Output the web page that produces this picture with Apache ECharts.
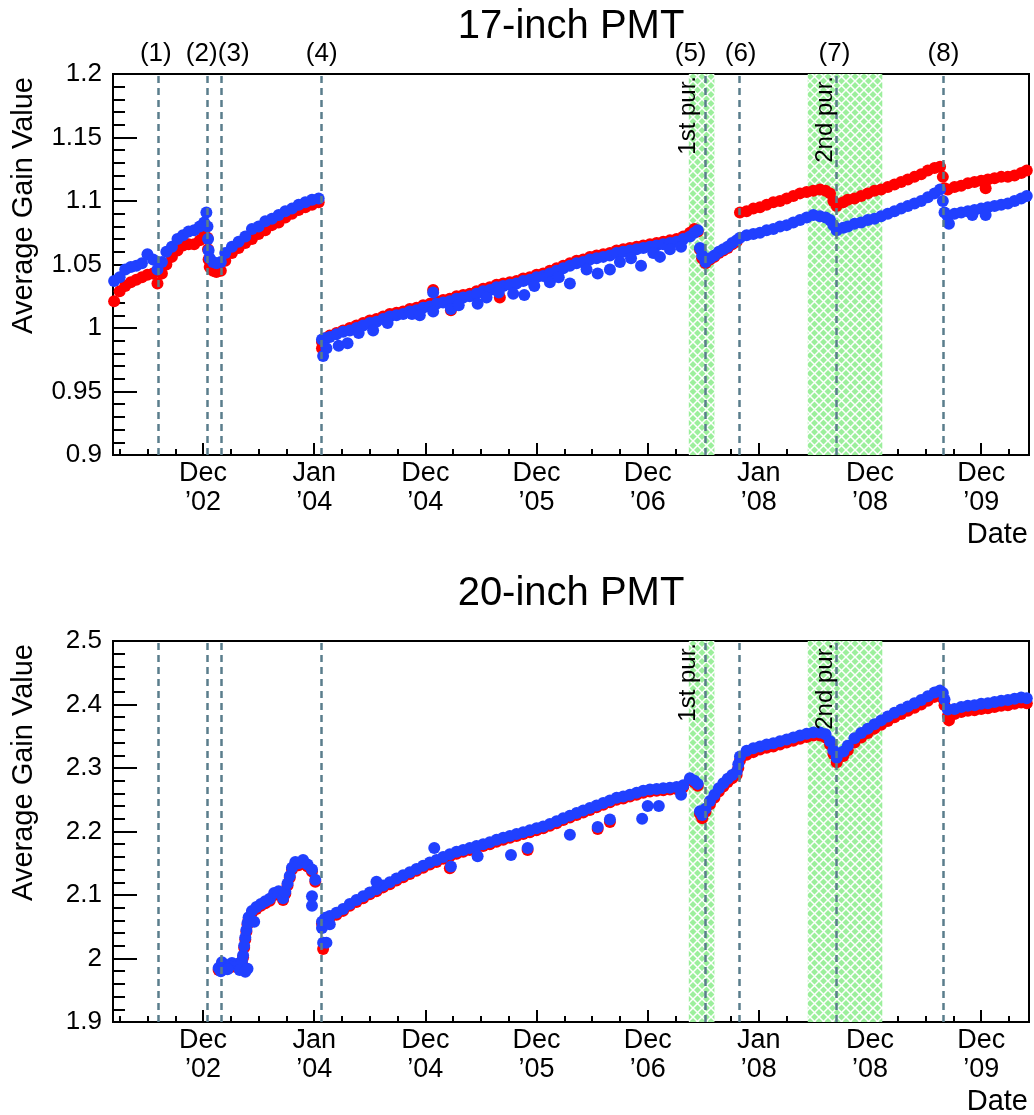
<!DOCTYPE html>
<html><head><meta charset="utf-8">
<script src="https://cdn.jsdelivr.net/npm/echarts@6/dist/echarts.min.js"></script>
<style>html,body{margin:0;padding:0;background:#fff;}#c{width:1034px;height:1115px;}</style>
</head><body><div id="c"></div>
<script>
// ---------- axis ticks / labels (x in "tick units": major tick k at x = k) ----------
const xTicks = [0, 1, 2, 3, 4, 5, 6, 7];
const tickMonth = ['Dec', 'Jan', 'Dec', 'Dec', 'Dec', 'Jan', 'Dec', 'Dec'];
const tickYear = ['\u201902', '\u201904', '\u201904', '\u201905', '\u201906', '\u201908', '\u201908', '\u201909'];

// ---------- events & purification periods ----------
const eventX = [-0.40, 0.04, 0.164, 1.063, 4.52, 4.82, 5.70, 6.66];
const eventLabels = ['(1)', '(2)', '(3)', '(4)', '(5)', '(6)', '(7)', '(8)'];
const eventLabelX = [-0.425, -0.012, 0.276, 1.067, 4.386, 4.836, 5.68, 6.66];
const purBands = [[4.37, 4.60], [5.44, 6.11]];
const purLabels = ['1st pur.', '2nd pur.'];
const purLabelX = [4.368, 5.60];

// ---------- x positions ----------
const seg1X = [-0.80,-0.75,-0.70,-0.65,-0.60,-0.55,-0.50,-0.45,-0.41,-0.37,
  -0.33,-0.28,-0.23,-0.18,-0.13,-0.08,-0.03,0.01,0.03,0.04,
  0.045,0.05,0.06,0.09,0.12,0.16,0.20,0.26,0.32,0.38,
  0.44,0.50,0.56,0.62,0.68,0.74,0.80,0.86,0.92,0.98,1.04];
const segAX = [0.14,0.17,0.20,0.23,0.26,0.29,0.32,0.35,0.36,0.37,
  0.38,0.39,0.40,0.41,0.44,0.48,0.52,0.56,0.60,0.64,
  0.68,0.72,0.74,0.76,0.78,0.80,0.83,0.86,0.90,0.94,0.98,1.01];
const midX = [1.07,1.10,1.14,1.20,1.26,1.32,1.38,1.44,1.50,1.56,
  1.62,1.68,1.74,1.80,1.86,1.92,1.98,2.04,2.10,2.16,
  2.22,2.28,2.34,2.40,2.46,2.52,2.58,2.64,2.70,2.76,
  2.82,2.88,2.94,3.00,3.06,3.12,3.18,3.24,3.30,3.36,
  3.42,3.48,3.54,3.60,3.66,3.72,3.78,3.84,3.90,3.96,
  4.02,4.08,4.14,4.20,4.26,4.32,4.38,4.42,4.45];
const lateX = [4.47,4.49,4.52,4.56,4.60,4.64,4.68,4.72,4.76,4.80,
  4.83,4.89,4.95,5.01,5.07,5.13,5.19,5.25,5.31,5.37,
  5.43,5.49,5.55,5.60,5.64,5.67,5.70,5.76,5.80,5.86,
  5.92,5.98,6.04,6.10,6.16,6.22,6.28,6.34,6.40,6.46,
  6.52,6.58,6.63,
  6.655,6.67,6.70,6.76,6.82,6.88,6.94,7.00,7.06,7.12,7.18,7.24,7.30,7.36,7.41];

// ---------- 17-inch PMT ----------
const top17Blue1 = [1.037,1.040,1.046,1.048,1.049,1.051,1.058,1.054,1.046,1.052,
  1.060,1.064,1.070,1.073,1.076,1.077,1.080,1.083,1.091,1.080,
  1.070,1.061,1.055,1.052,1.051,1.052,1.059,1.064,1.068,1.072,
  1.078,1.080,1.084,1.086,1.089,1.092,1.094,1.097,1.099,1.101,1.102];
const top17Red1 = [1.021,1.029,1.033,1.036,1.038,1.040,1.042,1.043,1.035,1.043,
  1.050,1.056,1.061,1.065,1.066,1.066,1.069,1.073,1.080,1.071,
  1.062,1.054,1.048,1.045,1.044,1.045,1.053,1.059,1.063,1.067,
  1.070,1.074,1.077,1.081,1.083,1.087,1.090,1.093,1.095,1.097,1.099];
const top17BlueMid = [0.991,0.992,0.993,0.995,0.997,0.998,1.000,1.002,1.004,1.005,
  1.007,1.009,1.010,1.011,1.013,1.014,1.016,1.017,1.019,1.020,
  1.021,1.023,1.024,1.025,1.027,1.029,1.030,1.032,1.033,1.034,
  1.035,1.037,1.038,1.040,1.041,1.043,1.045,1.047,1.049,1.051,
  1.052,1.054,1.055,1.056,1.057,1.059,1.060,1.061,1.062,1.063,
  1.064,1.065,1.066,1.067,1.068,1.070,1.072,1.075,1.077];
const top17RedMid = [0.989,0.992,0.994,0.996,0.998,1.000,1.002,1.004,1.006,1.007,
  1.009,1.011,1.012,1.013,1.015,1.016,1.018,1.019,1.021,1.022,
  1.023,1.025,1.026,1.027,1.029,1.031,1.032,1.034,1.035,1.036,
  1.037,1.039,1.040,1.042,1.043,1.045,1.047,1.049,1.051,1.053,
  1.054,1.056,1.057,1.058,1.059,1.061,1.062,1.063,1.064,1.065,
  1.066,1.067,1.068,1.069,1.070,1.072,1.075,1.078,1.076];
const top17BlueLate = [1.063,1.057,1.052,1.055,1.057,1.060,1.062,1.064,1.067,1.069,
  1.071,1.073,1.074,1.075,1.077,1.078,1.080,1.081,1.083,1.085,
  1.087,1.089,1.088,1.087,1.085,1.081,1.077,1.079,1.080,1.082,
  1.083,1.085,1.086,1.088,1.090,1.092,1.094,1.096,1.098,1.100,
  1.103,1.106,1.109,
  1.100,1.091,1.088,1.090,1.091,1.092,1.093,1.094,1.095,1.096,1.097,1.098,1.100,1.102,1.104];
const top17RedLate = [1.062,1.055,1.051,1.054,1.056,1.059,1.061,1.063,1.066,1.068,
  1.091,1.092,1.094,1.095,1.097,1.099,1.100,1.102,1.104,1.106,
  1.107,1.108,1.109,1.108,1.106,1.100,1.096,1.099,1.101,1.102,
  1.104,1.106,1.108,1.109,1.111,1.113,1.115,1.117,1.119,1.121,
  1.124,1.126,1.127,
  1.119,1.110,1.109,1.111,1.112,1.114,1.115,1.116,1.117,1.118,1.119,1.119,1.120,1.122,1.124];
const top17BlueOut = [[1.08,0.978],[1.11,0.984],[1.22,0.986],[1.30,0.988],[1.40,0.996],[1.53,0.998],
  [1.66,1.004],[1.88,1.011],[1.95,1.010],[2.07,1.013],[2.07,1.028],[2.23,1.015],[2.30,1.018],
  [2.47,1.019],[2.55,1.024],[2.66,1.028],[2.79,1.027],[2.89,1.026],[2.98,1.033],[3.12,1.036],
  [3.20,1.040],[3.30,1.035],[3.45,1.046],[3.55,1.043],[3.66,1.046],[3.75,1.052],[3.85,1.055],
  [3.94,1.049],[4.05,1.059],[4.11,1.056],[4.20,1.062],[4.30,1.064],
  [6.71,1.082],[6.92,1.089],[7.04,1.089]];
const top17RedOut = [[1.07,0.984],[2.07,1.030],[2.23,1.014],[2.67,1.024],[7.04,1.110]];

// ---------- 20-inch PMT ----------
const bot20BlueA = [1.985,1.994,1.990,1.988,1.993,1.990,1.992,1.996,2.005,2.020,
  2.033,2.045,2.056,2.065,2.075,2.081,2.086,2.090,2.094,2.103,
  2.106,2.095,2.105,2.118,2.130,2.143,2.152,2.150,2.155,2.148,2.140,2.124];
const bot20RedA = [1.982,1.991,1.987,1.985,1.990,1.987,1.989,1.993,2.002,2.017,
  2.030,2.042,2.053,2.062,2.072,2.078,2.083,2.087,2.091,2.100,
  2.103,2.092,2.102,2.115,2.127,2.140,2.149,2.147,2.152,2.145,2.137,2.121];
const bot20BlueMid = [2.058,2.064,2.067,2.072,2.078,2.086,2.092,2.098,2.104,2.109,
  2.115,2.120,2.126,2.131,2.136,2.141,2.146,2.151,2.155,2.160,
  2.164,2.168,2.171,2.174,2.177,2.180,2.183,2.187,2.190,2.193,
  2.196,2.199,2.202,2.205,2.208,2.212,2.216,2.221,2.225,2.229,
  2.233,2.237,2.241,2.245,2.249,2.253,2.255,2.258,2.261,2.264,
  2.266,2.267,2.268,2.269,2.270,2.273,2.284,2.280,2.275];
const bot20RedMid = [2.055,2.061,2.064,2.069,2.075,2.083,2.089,2.095,2.101,2.106,
  2.112,2.117,2.123,2.128,2.133,2.138,2.143,2.148,2.152,2.157,
  2.161,2.165,2.168,2.171,2.174,2.177,2.180,2.184,2.187,2.190,
  2.193,2.196,2.199,2.202,2.205,2.209,2.213,2.218,2.222,2.226,
  2.230,2.234,2.238,2.242,2.246,2.250,2.252,2.255,2.258,2.261,
  2.263,2.264,2.265,2.266,2.267,2.270,2.281,2.277,2.272];
const bot20BlueLate = [2.232,2.226,2.236,2.248,2.258,2.268,2.276,2.283,2.289,2.294,
  2.318,2.327,2.331,2.334,2.337,2.339,2.342,2.345,2.348,2.351,
  2.354,2.356,2.356,2.353,2.342,2.328,2.316,2.326,2.335,2.347,
  2.355,2.362,2.369,2.375,2.381,2.387,2.392,2.397,2.402,2.407,
  2.413,2.419,2.422,
  2.418,2.408,2.392,2.393,2.396,2.398,2.399,2.401,2.402,2.404,2.406,2.407,2.409,2.411,2.410];
const bot20RedLate = [2.228,2.221,2.231,2.243,2.253,2.263,2.271,2.278,2.284,2.289,
  2.312,2.321,2.325,2.329,2.332,2.334,2.337,2.340,2.343,2.346,
  2.349,2.351,2.351,2.348,2.337,2.322,2.309,2.319,2.328,2.340,
  2.348,2.355,2.362,2.368,2.374,2.380,2.385,2.390,2.395,2.400,
  2.406,2.412,2.415,
  2.410,2.399,2.382,2.385,2.388,2.390,2.391,2.393,2.394,2.396,2.398,2.399,2.401,2.403,2.402];
const bot20BlueOut = [[0.16,1.980],[0.22,1.983],[0.33,1.982],[0.38,1.979],[0.40,1.984],[0.46,2.058],
  [0.98,2.098],[0.98,2.083],[1.07,2.048],[1.08,2.025],[1.11,2.025],[1.14,2.054],[1.56,2.121],
  [2.08,2.174],[2.23,2.145],[2.47,2.161],[2.77,2.163],[2.92,2.174],[3.30,2.195],[3.55,2.207],
  [3.66,2.219],[3.95,2.220],[4.00,2.240],[4.10,2.240],[4.30,2.258],[4.815,2.306]];
const bot20RedOut = [[1.08,2.015],[2.22,2.142],[2.92,2.171],[3.55,2.204],[3.66,2.215],[6.71,2.375],[4.815,2.300]];

// ---------- build ----------
const FONT = '"Liberation Sans", Arial, Helvetica, sans-serif';
const RED = '#ff0000', BLUE = '#2040ff', DASH = '#5a7d8c';
const X_MIN = -0.81, X_MAX = 7.43;
const GRID_L = 113, GRID_W = 916, GRID_H = 381;
const GRID_TOPS = [74, 641];
const DOT = 12;

function pairs(xs, ys) { return xs.map((x, i) => [x, ys[i]]); }

const topX = seg1X.concat(midX, lateX);
const botX = segAX.concat(midX, lateX);
const topBlue = top17Blue1.concat(top17BlueMid, top17BlueLate);
const topRed = top17Red1.concat(top17RedMid, top17RedLate);
const botBlue = bot20BlueA.concat(bot20BlueMid, bot20BlueLate);
const botRed = bot20RedA.concat(bot20RedMid, bot20RedLate);

// hatch pattern for purification bands
const pat = document.createElement('canvas');
pat.width = 9; pat.height = 9;
(function () {
  const g = pat.getContext('2d');
  g.fillStyle = '#9cef9c';
  g.fillRect(0, 0, 9, 9);
  g.strokeStyle = '#ffffff';
  g.lineWidth = 1.5;
  g.beginPath();
  g.moveTo(-2, -2); g.lineTo(11, 11);
  g.moveTo(-2, 11); g.lineTo(11, -2);
  g.stroke();
})();

const minorTicks = [];
for (let k = -3; k <= 29; k++) { if (k % 4 !== 0) minorTicks.push(k * 0.25); }

function xAxesFor(gi) {
  return [
    {
      gridIndex: gi, type: 'value', min: X_MIN, max: X_MAX, position: 'bottom',
      axisLine: { show: false, onZero: false }, splitLine: { show: false },
      axisTick: { show: true, inside: true, length: 12, customValues: xTicks, lineStyle: { color: '#000', width: 2 } },
      axisLabel: {
        customValues: xTicks, margin: 4, color: '#000',
        formatter: function (v) {
          const i = xTicks.indexOf(Math.round(v));
          return '{a|' + tickMonth[i] + '}\n{a|' + tickYear[i] + '}';
        },
        rich: { a: { fontSize: 27, lineHeight: 29, color: '#000', fontFamily: FONT } }
      }
    },
    {
      gridIndex: gi, type: 'value', min: X_MIN, max: X_MAX, position: 'bottom',
      axisLine: { show: false, onZero: false }, splitLine: { show: false },
      axisTick: { show: true, inside: true, length: 6, customValues: minorTicks, lineStyle: { color: '#000', width: 2 } },
      axisLabel: { show: false }
    }
  ];
}

function yAxisFor(gi, min, max, interval) {
  return {
    gridIndex: gi, type: 'value', min: min, max: max, interval: interval, position: 'left',
    axisLine: { show: false, onZero: false }, splitLine: { show: false },
    axisTick: { show: true, inside: true, length: 24, lineStyle: { color: '#000', width: 2 } },
    minorTick: { show: true, splitNumber: 5, length: 12, lineStyle: { color: '#000', width: 2 } },
    axisLabel: { fontSize: 26, color: '#000', fontFamily: FONT, margin: 11 }
  };
}

function dots(base, color, data, z) {
  return Object.assign({}, base, { type: 'scatter', symbol: 'circle', symbolSize: DOT,
    itemStyle: { color: color, opacity: 1 }, data: data, z: z });
}

function panelSeries(xi, yi, xs, red, blue, redOut, blueOut) {
  const base = { xAxisIndex: xi, yAxisIndex: yi, silent: true, animation: false };
  return [
    Object.assign({}, base, {
      type: 'line', data: [], z: 1,
      markArea: { silent: true, itemStyle: { color: { image: pat, repeat: 'repeat' }, opacity: 1 },
        data: purBands.map(b => [{ xAxis: b[0] }, { xAxis: b[1] }]) }
    }),
    dots(base, RED, pairs(xs, red), 2),
    dots(base, RED, redOut, 2),
    dots(base, BLUE, pairs(xs, blue), 3),
    dots(base, BLUE, blueOut, 3),
    Object.assign({}, base, {
      type: 'line', data: [], z: 5,
      markLine: { silent: true, symbol: ['none', 'none'], label: { show: false },
        lineStyle: { color: DASH, width: 2.5, type: [7, 5] },
        data: eventX.map(x => ({ xAxis: x })) }
    })
  ];
}

const chart = echarts.init(document.getElementById('c'), null, { renderer: 'canvas' });
chart.setOption({
  animation: false,
  backgroundColor: '#fff',
  grid: GRID_TOPS.map(t => ({ left: GRID_L, top: t, width: GRID_W, height: GRID_H, show: true,
    borderColor: '#000', borderWidth: 2, backgroundColor: 'transparent', containLabel: false })),
  xAxis: xAxesFor(0).concat(xAxesFor(1)),
  yAxis: [yAxisFor(0, 0.9, 1.2, 0.05), yAxisFor(1, 1.9, 2.5, 0.1)],
  series: panelSeries(0, 0, topX, topRed, topBlue, top17RedOut, top17BlueOut)
    .concat(panelSeries(2, 1, botX, botRed, botBlue, bot20RedOut, bot20BlueOut))
});

// ---------- text annotations positioned through the axes ----------
function txt(text, x, y, size, align, rot) {
  return { type: 'text', x: x, y: y, rotation: rot || 0, silent: true, z: 100,
    style: { text: text, fill: '#000', fontSize: size, fontFamily: FONT,
      align: align, textAlign: align, verticalAlign: 'middle', textVerticalAlign: 'middle' } };
}
const g = [];
const panels = [
  { finder: { xAxisIndex: 0, yAxisIndex: 0 }, yTop: 1.2, yBot: 0.9, title: '17-inch PMT', events: true },
  { finder: { xAxisIndex: 2, yAxisIndex: 1 }, yTop: 2.5, yBot: 1.9, title: '20-inch PMT', events: false }
];
panels.forEach(p => {
  const tl = chart.convertToPixel(p.finder, [X_MIN, p.yTop]);
  const br = chart.convertToPixel(p.finder, [X_MAX, p.yBot]);
  const cx = (tl[0] + br[0]) / 2;
  g.push(txt(p.title, cx, tl[1] - 47, 40, 'center'));
  g.push(txt('Average Gain Value', 24, tl[1] + 3, 29, 'right', Math.PI / 2));
  g.push(txt('Date', br[0] - 1, br[1] + 80, 29, 'right'));
  purLabels.forEach((s, i) => {
    const pt = chart.convertToPixel(p.finder, [purLabelX[i], p.yTop]);
    g.push(txt(s, pt[0], pt[1] + 2, 24, 'right', Math.PI / 2));
  });
  if (p.events) {
    eventLabels.forEach((s, i) => {
      const pt = chart.convertToPixel(p.finder, [eventLabelX[i], p.yTop]);
      g.push(txt(s, pt[0], pt[1] - 20, 26, 'center'));
    });
  }
});
chart.setOption({ graphic: g });
</script></body></html>
